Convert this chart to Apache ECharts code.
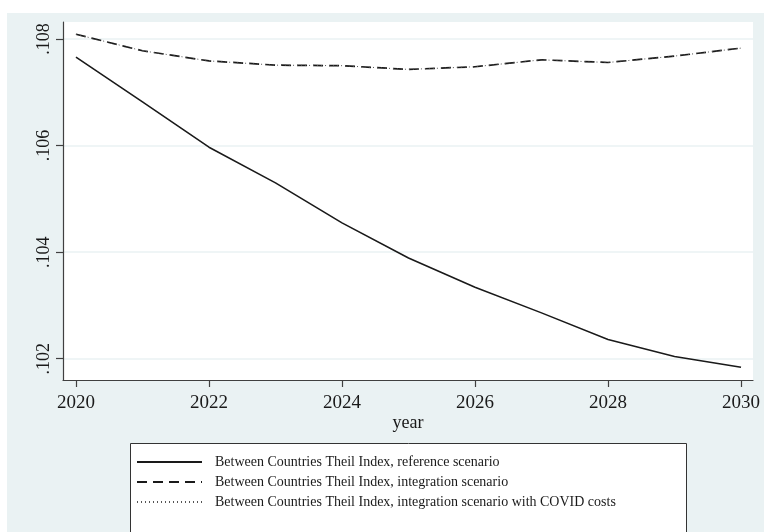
<!DOCTYPE html>
<html>
<head>
<meta charset="utf-8">
<script src="https://cdn.jsdelivr.net/npm/echarts@6/dist/echarts.min.js"></script>
<style>
  html, body { margin: 0; padding: 0; background: #ffffff; }
  #chart { width: 764px; height: 532px; }
</style>
</head>
<body>
<div id="chart"></div>
<script>
// Projection years
const years = [2020, 2021, 2022, 2023, 2024, 2025, 2026, 2027, 2028, 2029, 2030];

// Between-countries Theil index by scenario
const referenceScenario = [0.10766, 0.10682, 0.10597, 0.10530, 0.10455, 0.10389, 0.10334, 0.10286, 0.10236, 0.10204, 0.10184];
const integrationScenario = [0.10809, 0.10778, 0.10759, 0.10751, 0.10750, 0.10743, 0.10748, 0.10761, 0.10756, 0.10768, 0.10783];
const integrationCovidScenario = [0.10809, 0.10778, 0.10759, 0.10751, 0.10750, 0.10743, 0.10748, 0.10761, 0.10756, 0.10768, 0.10783];

// Axis ticks
const yTicks = [0.102, 0.104, 0.106, 0.108];
const xTicks = [2020, 2022, 2024, 2026, 2028, 2030];

const seriesNames = [
  'Between Countries Theil Index, reference scenario',
  'Between Countries Theil Index, integration scenario',
  'Between Countries Theil Index, integration scenario with COVID costs'
];

const pairs = vals => years.map((y, i) => [y, vals[i]]);

const BG = '#eaf2f3';
const INK = '#1a1a1a';
const SERIF = '"Liberation Serif", "Times New Roman", serif';

const chart = echarts.init(document.getElementById('chart'), null, { renderer: 'canvas' });

chart.setOption({
  animation: false,
  backgroundColor: '#ffffff',
  graphic: [
    {
      type: 'rect', z: -10, silent: true,
      shape: { x: 7, y: 13, width: 757, height: 519 },
      style: { fill: BG }
    },
    {
      type: 'rect', z: 0, silent: true,
      shape: { x: 130.5, y: 443.5, width: 556, height: 100 },
      style: { fill: '#ffffff', stroke: '#333333', lineWidth: 1 }
    }
  ],
  grid: {
    left: 63, right: 11, top: 22, bottom: 152,
    show: true, backgroundColor: '#ffffff', borderWidth: 0
  },
  xAxis: {
    type: 'value',
    min: 2019.805, max: 2030.18,
    name: 'year',
    nameLocation: 'middle',
    nameGap: 34,
    nameMoveOverlap: false,
    nameTextStyle: { fontFamily: SERIF, fontSize: 18, color: INK },
    axisLine: { show: true, lineStyle: { color: '#404040', width: 1.2 } },
    axisTick: { show: true, length: 7, lineStyle: { color: '#404040', width: 1.2 }, customValues: xTicks },
    axisLabel: {
      customValues: xTicks, margin: 14,
      fontFamily: SERIF, fontSize: 19, color: INK,
      formatter: v => String(v)
    },
    splitLine: { show: false }
  },
  yAxis: {
    type: 'value',
    min: 0.1016, max: 0.10832,
    axisLine: { show: true, lineStyle: { color: '#404040', width: 1.2 } },
    axisTick: { show: true, length: 7, lineStyle: { color: '#404040', width: 1.2 }, customValues: yTicks },
    axisLabel: {
      customValues: yTicks, rotate: 90, margin: 10,
      fontFamily: SERIF, fontSize: 18, color: INK,
      formatter: v => v.toFixed(3).replace(/^0/, '')
    },
    splitLine: { show: true, lineStyle: { color: BG, width: 1.5 } }
  },
  legend: {
    orient: 'vertical',
    left: 130, top: 455,
    padding: [0, 0, 0, 6],
    itemWidth: 65, itemHeight: 14, itemGap: 6,
    itemStyle: { opacity: 0 },
    textStyle: { fontFamily: SERIF, fontSize: 14, color: INK, padding: [0, 0, 0, 8] },
    data: seriesNames,
    z: 5
  },
  series: [
    {
      name: seriesNames[0], type: 'line', data: pairs(referenceScenario),
      symbol: 'none', showSymbol: false,
      lineStyle: { color: INK, width: 1.6, type: 'solid' },
      itemStyle: { color: INK }
    },
    {
      name: seriesNames[1], type: 'line', data: pairs(integrationScenario),
      symbol: 'none', showSymbol: false,
      lineStyle: { color: INK, width: 1.7, type: [10, 6] },
      itemStyle: { color: INK }
    },
    {
      name: seriesNames[2], type: 'line', data: pairs(integrationCovidScenario),
      symbol: 'none', showSymbol: false,
      lineStyle: { color: '#555555', width: 1, type: [1, 3] },
      itemStyle: { color: '#555555' }
    }
  ]
});
</script>
</body>
</html>
